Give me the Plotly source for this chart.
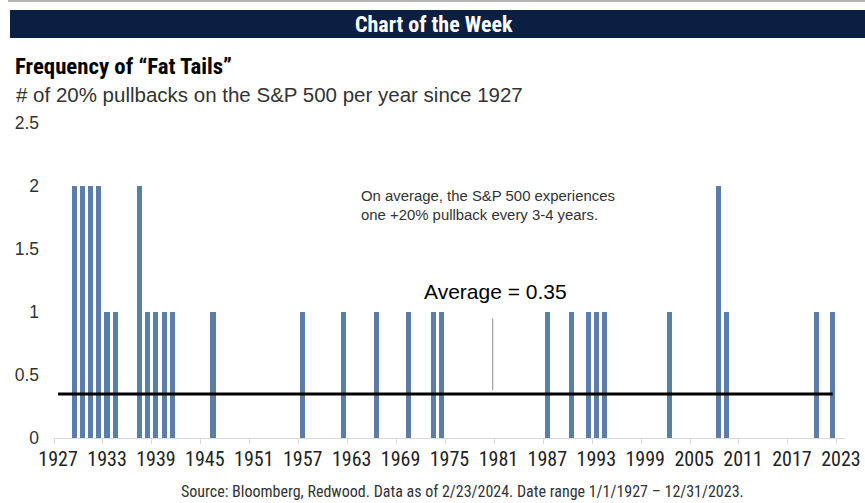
import plotly.graph_objects as go

# ---- data ----
years = [1929, 1930, 1931, 1932, 1933, 1934, 1937, 1938, 1939, 1940, 1941, 1946,
         1957, 1962, 1966, 1970, 1973, 1974, 1987, 1990, 1992, 1993, 1994,
         2002, 2008, 2009, 2020, 2022]
pullbacks = [2, 2, 2, 2, 1, 1, 2, 1, 1, 1, 1, 1,
             1, 1, 1, 1, 1, 1, 1, 1, 1, 1, 1,
             1, 2, 1, 1, 1]
first_year = 1927
last_year = 2023
average = 0.35
tick_years = list(range(first_year, last_year + 1, 6))
y_ticks = [0, 0.5, 1, 1.5, 2, 2.5]

W, H = 865, 503
L, R, T, B = 54, 20, 123, 65
PW, PH = W - L - R, H - T - B


def px(x):
    return (x - L) / PW


def py(y):
    return (H - B - y) / PH


BAR = "#5a7ea8"
NARROW = "Liberation Sans Narrow, Arial Narrow, Roboto Condensed, DejaVu Sans Condensed, sans-serif"
SANS = "Liberation Sans, Arial, sans-serif"

fig = go.Figure()
fig.add_trace(go.Bar(x=years, y=pullbacks, width=0.62, marker=dict(color=BAR, line=dict(width=0)),
                     showlegend=False, hoverinfo="x+y"))
fig.add_trace(go.Scatter(x=[first_year, years[-1]], y=[average, average], mode="lines",
                         line=dict(color="black", width=3), showlegend=False, hoverinfo="skip"))

shapes = [
    dict(type="rect", xref="paper", yref="paper", x0=px(8), x1=px(W), y0=py(2), y1=py(0),
         fillcolor="#b4b4b4", line=dict(width=0), layer="above"),
    dict(type="rect", xref="paper", yref="paper", x0=px(10), x1=px(W), y0=py(38), y1=py(10),
         fillcolor="#0b1f42", line=dict(width=0), layer="above"),
    dict(type="line", xref="x", yref="y", x0=1980.3, x1=1980.3, y0=0.38, y1=0.95,
         line=dict(color="#8c8c8c", width=1)),
]

annotations = [
    dict(text="<b>Chart of the Week</b>", xref="paper", yref="paper", x=px(434), y=py(24),
         xanchor="center", yanchor="middle", showarrow=False,
         font=dict(family=NARROW, size=22, color="white")),
    dict(text="<b>Frequency of “Fat Tails”</b>", xref="paper", yref="paper", x=px(13), y=py(66),
         xanchor="left", yanchor="middle", showarrow=False,
         font=dict(family=NARROW, size=22.8, color="black")),
    dict(text="# of 20% pullbacks on the S&P 500 per year since 1927", xref="paper", yref="paper",
         x=px(14), y=py(94), xanchor="left", yanchor="middle", showarrow=False,
         font=dict(family=SANS, size=20.5, color="#333333")),
    dict(text="On average, the S&P 500 experiences<br>one +20% pullback every 3-4 years.",
         xref="paper", yref="paper", x=px(359), y=py(205), xanchor="left", yanchor="middle",
         align="left", showarrow=False, font=dict(family=SANS, size=14.9, color="#333333")),
    dict(text="Average = 0.35", xref="paper", yref="paper", x=px(495), y=py(291),
         xanchor="center", yanchor="middle", showarrow=False,
         font=dict(family=SANS, size=21, color="black")),
    dict(text="Source: Bloomberg, Redwood. Data as of 2/23/2024. Date range 1/1/1927 – 12/31/2023.",
         xref="paper", yref="paper", x=px(462), y=py(491), xanchor="center", yanchor="middle",
         showarrow=False, font=dict(family=NARROW, size=16, color="#333333")),
]

fig.update_layout(
    width=W, height=H, autosize=False,
    margin=dict(l=L, r=R, t=T, b=B, pad=0, autoexpand=False),
    paper_bgcolor="white", plot_bgcolor="white",
    bargap=0,
    shapes=shapes, annotations=annotations,
    xaxis=dict(range=[first_year - 0.5, last_year + 0.5], tickvals=tick_years,
               ticktext=[str(y) for y in tick_years], ticks="", showgrid=False, zeroline=False,
               showline=True, linecolor="#d9d9d9", linewidth=1, automargin=False,
               tickfont=dict(family=NARROW, size=20, color="#222222"), ticklabelstandoff=3,
               minor=dict(tick0=first_year - 0.5, dtick=6, ticks="outside", ticklen=5,
                          tickcolor="#d9d9d9", showgrid=False)),
    yaxis=dict(range=[0, 2.5], tickvals=y_ticks, ticktext=["0", "0.5", "1", "1.5", "2", "2.5"],
               showgrid=False, zeroline=False, showline=False, ticks="", automargin=False,
               tickfont=dict(family=SANS, size=17.5, color="#333333"), ticklabelstandoff=14),
)

fig.write_html("out.html", config={"displayModeBar": False},
               post_script="document.body.style.margin='0';")
